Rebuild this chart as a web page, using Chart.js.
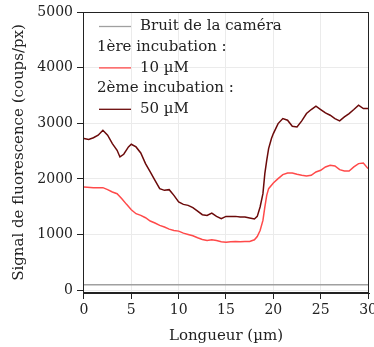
<!DOCTYPE html>
<html><head><meta charset="utf-8">
<script src="https://cdn.jsdelivr.net/npm/chart.js@4"></script>
<style>html,body{margin:0;padding:0;background:#fff}#wrap{width:374px;height:347px}</style>
</head><body><div id="wrap"><canvas id="c" width="374" height="347"></canvas></div>
<script>
const xTicks = [0, 5, 10, 15, 20, 25, 30];
const yTicks = [0, 1000, 2000, 3000, 4000, 5000];
const noiseX = [0, 30];
const noiseY = [100, 100];
const dark50X = [0,0.5,1,1.5,2,2.5,3,3.5,3.8,4.2,4.7,5,5.5,6,6.5,7,7.5,8,8.5,9,9.5,10,10.5,11,11.5,12,12.5,13,13.5,14,14.5,15,15.5,16,16.5,17,17.5,18,18.3,18.6,18.9,19.1,19.3,19.5,19.8,20,20.5,21,21.5,22,22.5,23,23.5,24,24.5,25,25.5,26,26.5,27,27.5,28,28.5,29,29.5,30];
const dark50Y = [2725,2710,2740,2785,2875,2785,2635,2515,2395,2443,2575,2623,2575,2467,2275,2125,1975,1825,1795,1807,1705,1585,1543,1525,1483,1423,1357,1345,1387,1327,1285,1327,1327,1327,1315,1315,1297,1279,1327,1495,1735,2095,2335,2545,2725,2815,2995,3085,3055,2947,2935,3043,3175,3247,3307,3247,3187,3145,3085,3043,3115,3175,3247,3325,3265,3265];
const red10X = [0,1,2,2.5,3,3.5,4,4.5,5,5.5,6,6.5,7,7.5,8,8.5,9,9.5,10,10.5,11,11.5,12,12.5,13,13.5,14,14.5,15,15.5,16,16.5,17,17.5,18,18.3,18.6,18.9,19.1,19.3,19.5,20,20.5,21,21.5,22,22.5,23,23.5,24,24.5,25,25.5,26,26.5,27,27.5,28,28.5,29,29.5,30];
const red10Y = [1855,1843,1843,1807,1765,1735,1645,1543,1447,1375,1345,1303,1243,1207,1165,1135,1098,1074,1062,1026,1002,978,942,912,894,906,894,870,864,870,876,870,876,876,906,966,1074,1254,1495,1705,1825,1927,2005,2077,2107,2107,2083,2065,2053,2065,2125,2155,2215,2245,2233,2167,2143,2143,2215,2275,2287,2185];
const legendRows = [
  {text: 'Bruit de la caméra', color: '#a0a0a0', line: true},
  {text: '1ère incubation :', line: false},
  {text: '10 µM', color: '#ff4a4a', line: true},
  {text: '2ème incubation :', line: false},
  {text: '50 µM', color: '#6b0a0a', line: true}
];
const FONT = "'DejaVu Serif', 'Liberation Serif', serif";

function pts(xs, ys){ return xs.map((x,i)=>({x:x, y:ys[i]})); }

const framePlugin = {
  id: 'frame',
  afterDatasetsDraw(chart){
    const {ctx, chartArea:a} = chart;
    ctx.save();
    ctx.strokeStyle = '#222'; ctx.lineWidth = 1;
    ctx.strokeRect(a.left+0.5, a.top+0.5, a.right-a.left-1, a.bottom-a.top-1);
    ctx.font = '15px ' + FONT;
    ctx.textBaseline = 'middle';
    ctx.fillStyle = '#222';
    legendRows.forEach((r,i)=>{
      const y = a.top + 14.5 + i*20.7;
      if (r.line){
        ctx.strokeStyle = r.color; ctx.lineWidth = 1.3;
        ctx.beginPath(); ctx.moveTo(a.left+16, y); ctx.lineTo(a.left+48, y); ctx.stroke();
        ctx.fillText(r.text, a.left+57, y);
      } else {
        ctx.fillText(r.text, a.left+14, y);
      }
    });
    ctx.restore();
  }
};

new Chart(document.getElementById('c'), {
  type: 'scatter',
  data: { datasets: [
    {label:'Bruit de la caméra', data: pts(noiseX, noiseY), showLine:true, borderColor:'#a0a0a0', borderWidth:1.5, pointRadius:0},
    {label:'10 µM', data: pts(red10X, red10Y), showLine:true, borderColor:'#ff4a4a', borderWidth:1.5, pointRadius:0},
    {label:'50 µM', data: pts(dark50X, dark50Y), showLine:true, borderColor:'#6b0a0a', borderWidth:1.5, pointRadius:0}
  ]},
  options: {
    responsive:false, animation:false, devicePixelRatio:1,
    layout:{padding:{top:12, right:5, left:0, bottom:0}},
    plugins:{legend:{display:false}, tooltip:{enabled:false}},
    scales:{
      x:{type:'linear', min:-0.1, max:30.1,
        afterBuildTicks(s){ s.ticks = xTicks.map(v=>({value:v})); },
        afterFit(s){ s.height = 54; s.paddingLeft = 0; s.paddingRight = 0; },
        grid:{color:'#ebebeb', tickColor:'#222', tickLength:6},
        border:{color:'#222', width:1},
        ticks:{color:'#222', font:{family:FONT, size:14}, padding:3, maxRotation:0, autoSkip:false, callback:v=>String(v)},
        title:{display:true, text:'Longueur (µm)', color:'#222', font:{family:FONT, size:15}, padding:{top:0,bottom:2}}
      },
      y:{type:'linear', min:-50, max:5000,
        afterBuildTicks(s){ s.ticks = yTicks.map(v=>({value:v})); },
        afterFit(s){ s.width = 83; s.paddingTop = 0; s.paddingBottom = 0; },
        grid:{color:'#ebebeb', tickColor:'#222', tickLength:6},
        border:{color:'#222', width:1},
        ticks:{color:'#222', font:{family:FONT, size:14}, padding:4, callback:v=>String(v)},
        title:{display:true, text:'Signal de fluorescence (coups/px)', color:'#222', font:{family:FONT, size:15}, padding:{top:10,bottom:4}}
      }
    }
  },
  plugins:[framePlugin]
});
</script></body></html>
